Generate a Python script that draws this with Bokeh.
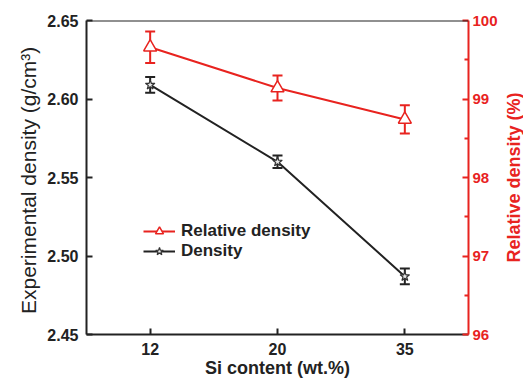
from bokeh.plotting import figure
from bokeh.layouts import row
from bokeh.models import (FactorRange, Range1d, LinearAxis, FixedTicker, Whisker,
                          ColumnDataSource, TeeHead, Legend, LegendItem,
                          PrintfTickFormatter, Span)
from bokeh.embed import file_html
from bokeh.resources import INLINE

# ---- data ----
si_content = ["12", "20", "35"]
density = [2.609, 2.560, 2.487]
density_err = [0.005, 0.004, 0.005]
relative_density = [99.66, 99.14, 98.74]
relative_err = [0.20, 0.16, 0.18]
left_ticks = [2.45, 2.50, 2.55, 2.60, 2.65]
right_ticks = [96, 97, 98, 99, 100]
right_minor = [96.5, 97.5, 98.5, 99.5]

RED = "#e8231f"
BLACK = "#222222"
FONT = "Liberation Sans"

p = figure(width=500, height=385, x_range=FactorRange(*si_content),
           y_range=Range1d(2.45, 2.65), output_backend="svg", toolbar_location=None,
           min_border_left=86, min_border_right=10, min_border_top=20,
           min_border_bottom=51)
p.xgrid.visible = False
p.ygrid.visible = False
p.outline_line_color = None
p.background_fill_color = "white"

# left axis
ya = p.yaxis[0]
ya.ticker = FixedTicker(ticks=left_ticks)
ya.formatter = PrintfTickFormatter(format="%.2f")
ya.axis_label = "Experimental density  (g/cm³)"
for ax in (ya, p.xaxis[0]):
    ax.major_tick_in = 6
    ax.major_tick_out = 0
    ax.minor_tick_line_color = None
    ax.axis_line_width = 2
    ax.axis_line_color = BLACK
    ax.major_tick_line_width = 2
    ax.major_tick_line_color = BLACK
    ax.major_label_text_font = FONT
    ax.major_label_text_font_style = "bold"
    ax.major_label_text_font_size = "16px"
    ax.major_label_text_color = BLACK
    ax.axis_label_text_font = FONT
    ax.axis_label_text_font_size = "18px"
    ax.axis_label_text_color = BLACK
ya.axis_label_text_font_size = "21px"
ya.axis_label_text_font_style = "normal"
ya.major_label_standoff = 8
ya.axis_label_standoff = 4

xa = p.xaxis[0]
xa.axis_label = "Si content (wt.%)"
xa.axis_label_text_font_style = "bold"
xa.major_label_standoff = 8
xa.axis_label_standoff = 0

# right axis (ticks only; its title is drawn by the narrow companion figure)
p.extra_y_ranges = {"rel": Range1d(96, 100)}
ra = LinearAxis(y_range_name="rel",
                ticker=FixedTicker(ticks=right_ticks, minor_ticks=right_minor))
ra.major_tick_in = 6
ra.major_tick_out = 0
ra.minor_tick_in = 4
ra.minor_tick_out = 0
ra.axis_line_width = 2
ra.axis_line_color = RED
ra.major_tick_line_color = RED
ra.major_tick_line_width = 2
ra.minor_tick_line_color = RED
ra.minor_tick_line_width = 2
ra.major_label_text_font = FONT
ra.major_label_text_font_style = "bold"
ra.major_label_text_font_size = "15px"
ra.major_label_text_color = RED
ra.major_label_standoff = 4
p.add_layout(ra, "right")

# top frame line
p.add_layout(Span(location=2.65, dimension="width", line_color=BLACK, line_width=2))

# error bars
src_d = ColumnDataSource(dict(x=si_content,
                              upper=[v + e for v, e in zip(density, density_err)],
                              lower=[v - e for v, e in zip(density, density_err)]))
src_r = ColumnDataSource(dict(x=si_content,
                              upper=[v + e for v, e in zip(relative_density, relative_err)],
                              lower=[v - e for v, e in zip(relative_density, relative_err)]))
p.add_layout(Whisker(base="x", upper="upper", lower="lower", source=src_d,
                     line_color=BLACK, line_width=2,
                     upper_head=TeeHead(size=10, line_color=BLACK, line_width=2),
                     lower_head=TeeHead(size=10, line_color=BLACK, line_width=2)))
p.add_layout(Whisker(base="x", upper="upper", lower="lower", source=src_r,
                     y_range_name="rel", line_color=RED, line_width=2,
                     upper_head=TeeHead(size=10, line_color=RED, line_width=2),
                     lower_head=TeeHead(size=10, line_color=RED, line_width=2)))

# series
rl = p.line(si_content, relative_density, y_range_name="rel", line_color=RED, line_width=2)
rs = p.scatter(si_content, relative_density, y_range_name="rel", marker="triangle",
               size=13, fill_color="white", line_color=RED, line_width=1.5)
dl = p.line(si_content, density, line_color=BLACK, line_width=2)
ds = p.scatter(si_content, density, marker="star", size=10, fill_color="#e6e6e6",
               line_color="#333333", line_width=1.2)

legend = Legend(items=[LegendItem(label="Relative density", renderers=[rl, rs]),
                       LegendItem(label="Density", renderers=[dl, ds])],
                location=(57, 73), border_line_color=None, background_fill_alpha=0,
                label_text_font=FONT, label_text_font_style="bold",
                label_text_font_size="17px", label_text_color=BLACK,
                glyph_width=32, glyph_height=20, label_height=20, padding=0,
                margin=0, spacing=0, label_standoff=6)
p.add_layout(legend)

# narrow companion figure carrying the right-hand title (reads bottom-to-top)
t = figure(width=23, height=385, x_range=Range1d(0, 1), y_range=Range1d(96, 100),
           output_backend="svg", toolbar_location=None,
           min_border_left=0, min_border_right=0, min_border_top=20,
           min_border_bottom=51)
t.xaxis.visible = False
t.xgrid.visible = False
t.ygrid.visible = False
t.outline_line_color = None
t.background_fill_color = "white"
ty = t.yaxis[0]
ty.ticker = FixedTicker(ticks=[])
ty.axis_line_color = None
ty.major_tick_line_color = None
ty.minor_tick_line_color = None
ty.major_tick_out = 0
ty.minor_tick_out = 0
ty.major_tick_in = 0
ty.minor_tick_in = 0
ty.major_label_standoff = 0
ty.major_label_text_font_size = "0px"
ty.axis_label = "Relative density (%)"
ty.axis_label_standoff = 0
ty.axis_label_text_font = FONT
ty.axis_label_text_font_style = "bold"
ty.axis_label_text_font_size = "18px"
ty.axis_label_text_color = RED

layout = row(p, t, spacing=0)
open("out.html", "w").write(file_html(layout, INLINE))
